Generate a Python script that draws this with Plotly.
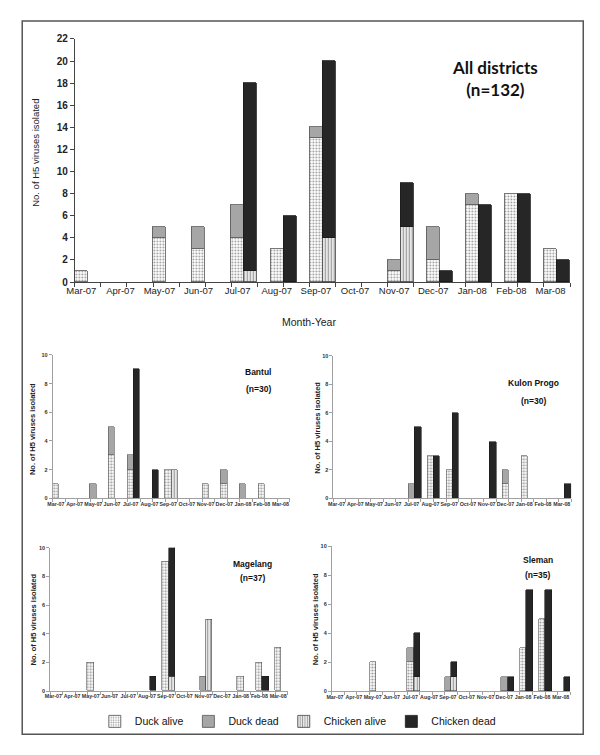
import plotly.graph_objects as go

# ---------------- data ----------------
months = ["Mar-07", "Apr-07", "May-07", "Jun-07", "Jul-07", "Aug-07", "Sep-07",
          "Oct-07", "Nov-07", "Dec-07", "Jan-08", "Feb-08", "Mar-08"]

series_names = ["Duck alive", "Duck dead", "Chicken alive", "Chicken dead"]

all_duck_alive = [1, 0, 4, 3, 4, 3, 13, 0, 1, 2, 7, 8, 3]
all_duck_dead = [0, 0, 1, 2, 3, 0, 1, 0, 1, 3, 1, 0, 0]
all_chicken_alive = [0, 0, 0, 0, 1, 0, 4, 0, 5, 0, 0, 0, 0]
all_chicken_dead = [0, 0, 0, 0, 17, 6, 16, 0, 4, 1, 7, 8, 2]

bantul_duck_alive = [1, 0, 0, 3, 2, 0, 2, 0, 1, 1, 0, 1, 0]
bantul_duck_dead = [0, 0, 1, 2, 1, 0, 0, 0, 0, 1, 1, 0, 0]
bantul_chicken_alive = [0, 0, 0, 0, 0, 0, 2, 0, 0, 0, 0, 0, 0]
bantul_chicken_dead = [0, 0, 0, 0, 9, 2, 0, 0, 0, 0, 0, 0, 0]

kulon_duck_alive = [0, 0, 0, 0, 0, 3, 2, 0, 0, 1, 3, 0, 0]
kulon_duck_dead = [0, 0, 0, 0, 1, 0, 0, 0, 0, 1, 0, 0, 0]
kulon_chicken_alive = [0, 0, 0, 0, 0, 0, 0, 0, 0, 0, 0, 0, 0]
kulon_chicken_dead = [0, 0, 0, 0, 5, 3, 6, 0, 4, 0, 0, 0, 1]

magelang_duck_alive = [0, 0, 2, 0, 0, 0, 9, 0, 0, 0, 1, 2, 3]
magelang_duck_dead = [0, 0, 0, 0, 0, 0, 0, 0, 1, 0, 0, 0, 0]
magelang_chicken_alive = [0, 0, 0, 0, 0, 0, 1, 0, 5, 0, 0, 0, 0]
magelang_chicken_dead = [0, 0, 0, 0, 0, 1, 9, 0, 0, 0, 0, 1, 0]

sleman_duck_alive = [0, 0, 2, 0, 2, 0, 0, 0, 0, 0, 3, 5, 0]
sleman_duck_dead = [0, 0, 0, 0, 1, 0, 1, 0, 0, 1, 0, 0, 0]
sleman_chicken_alive = [0, 0, 0, 0, 1, 0, 1, 0, 0, 0, 0, 0, 0]
sleman_chicken_dead = [0, 0, 0, 0, 3, 0, 1, 0, 0, 1, 7, 7, 1]

y_title = "No. of H5 viruses isolated"
x_title = "Month-Year"

# ---------------- layout helpers ----------------
# page body has an 8px margin, so the figure is 8px smaller and positions
# below are given in window pixels
OFF = 8
W, H = 600 - OFF, 755 - OFF


def px_x(v):
    return (v - OFF) / W


def px_y(v):
    return 1 - (v - OFF) / H


n = len(months)
duck_x = [3 * i for i in range(n)]
chicken_x = [3 * i + 1 for i in range(n)]
x_range = [-0.5, 3 * n - 1.5]


def nz(vals):
    return [v if v else None for v in vals]


panels = [
    dict(ax="", data=(all_duck_alive, all_duck_dead, all_chicken_alive, all_chicken_dead),
         xd=(66.7, 569.6), yd=(34.3, 280.7), ymax=22, main=True, tx=26, ty=150),
    dict(ax="2", data=(bantul_duck_alive, bantul_duck_dead, bantul_chicken_alive, bantul_chicken_dead),
         xd=(44.3, 285.0), yd=(354.5, 500.0), ymax=10, main=False, tx=24, ty=430),
    dict(ax="3", data=(kulon_duck_alive, kulon_duck_dead, kulon_chicken_alive, kulon_chicken_dead),
         xd=(329.3, 570.7), yd=(355.5, 500.0), ymax=10, main=False, tx=313, ty=428),
    dict(ax="4", data=(magelang_duck_alive, magelang_duck_dead, magelang_chicken_alive, magelang_chicken_dead),
         xd=(41.7, 282.7), yd=(550.0, 695.3), ymax=10, main=False, tx=25, ty=623),
    dict(ax="5", data=(sleman_duck_alive, sleman_duck_dead, sleman_chicken_alive, sleman_chicken_dead),
         xd=(327.7, 569.7), yd=(548.3, 695.7), ymax=10, main=False, tx=311, ty=622),
]

fig = go.Figure()

SANS = "Liberation Sans, Arial, sans-serif"
ann = []

for p in panels:
    main = p["main"]
    da, dd, ca, cd = p["data"]
    xa = "x" + p["ax"]
    ya = "y" + p["ax"]
    lw = 0.8 if main else 0.6
    psize = 3
    styles = [
        dict(color="white", line=dict(color="#555555", width=lw),
             pattern=dict(shape=".", bgcolor="white", fgcolor="#2e2e2e", size=psize,
                          solidity=0.3 if main else 0.4)),
        dict(color="#a6a6a6", line=dict(color="#555555", width=lw)),
        dict(color="white", line=dict(color="#444444", width=lw),
             pattern=dict(shape="|", bgcolor="white", fgcolor="#333333", size=psize, solidity=0.5)),
        dict(color="#262626", line=dict(color="#1a1a1a", width=lw)),
    ]
    xs = [duck_x, duck_x, chicken_x, chicken_x]
    for name, vals, xv, st in zip(series_names, (da, dd, ca, cd), xs, styles):
        fig.add_trace(go.Bar(
            x=xv, y=nz(vals), width=1, name=name, marker=st,
            xaxis=xa, yaxis=ya, showlegend=main, legendgroup=name,
            hovertemplate=name + ": %{y}<extra></extra>",
        ))

    xkey = "xaxis" + p["ax"]
    ykey = "yaxis" + p["ax"]
    if main:
        tickfont_x = dict(family=SANS, size=9.5, color="#222")
        tickfont_y = dict(family=SANS, size=10, color="#222", weight="bold")
        linecol = "#444444"
        tlen = 4
        ytitle_font = dict(family=SANS, size=9.5, color="#222")
    else:
        tickfont_x = dict(family=SANS, size=5.3, color="#333", weight="bold")
        tickfont_y = dict(family=SANS, size=5.5, color="#333", weight="bold")
        linecol = "#a0a0a0"
        tlen = 3
        ytitle_font = dict(family=SANS, size=7.5, color="#222", weight="bold")
    fig.layout[xkey] = dict(
        domain=[px_x(p["xd"][0]), px_x(p["xd"][1])],
        anchor=ya, range=x_range, showgrid=False, zeroline=False,
        showline=True, linecolor=linecol, linewidth=1,
        tickmode="array", tickvals=duck_x, ticktext=months, ticks="",
        tickfont=tickfont_x, tickangle=0,
        minor=dict(tick0=-0.5, dtick=2, ticks="outside", ticklen=tlen,
                   tickcolor=linecol, showgrid=False),
        fixedrange=True,
    )
    fig.layout[ykey] = dict(
        domain=[px_y(p["yd"][1]), px_y(p["yd"][0])],
        anchor=xa, range=[0, p["ymax"]], dtick=2, showgrid=False, zeroline=False,
        showline=True, linecolor=linecol, linewidth=1,
        ticks="outside", ticklen=tlen, tickcolor=linecol, tickfont=tickfont_y,
        fixedrange=True,
    )
    # y-axis title (rotated) placed at the reference position
    ann.append(dict(x=px_x(p["tx"]), y=px_y(p["ty"]), xref="paper", yref="paper",
                    text=y_title, textangle=-90, showarrow=False,
                    xanchor="center", yanchor="middle", font=ytitle_font))


def text(x, y, s, size, family, bold=True, color="#111"):
    ann.append(dict(x=px_x(x), y=px_y(y), xref="paper", yref="paper", text=s,
                    showarrow=False, xanchor="center", yanchor="middle",
                    font=dict(family=family, size=size, color=color,
                              weight="bold" if bold else "normal")))


title_font = "Lato, Open Sans, sans-serif"
text(493, 74, "All districts<br>(n=132)", 17, title_font)
text(304.8, 320.7, x_title, 10.5, SANS, bold=False, color="#222")
text(253, 372, "Bantul", 8.5, SANS)
text(253, 389, "(n=30)", 8.5, SANS)
text(532, 383, "Kulon Progo", 8.5, SANS)
text(532, 401, "(n=30)", 8.5, SANS)
text(247, 566, "Magelang", 8.5, SANS)
text(247, 581, "(n=37)", 8.5, SANS)
text(536.7, 562, "Sleman", 8.5, SANS)
text(536.7, 578, "(n=35)", 8.5, SANS)

fig.update_layout(
    width=W, height=H, autosize=False,
    margin=dict(l=0, r=0, t=0, b=0),
    paper_bgcolor="white", plot_bgcolor="white",
    barmode="stack", bargap=0,
    annotations=ann,
    shapes=[dict(type="rect", xref="paper", yref="paper",
                 x0=px_x(13.3), x1=px_x(583), y0=px_y(739), y1=px_y(16),
                 line=dict(color="#555555", width=1.5), fillcolor="rgba(0,0,0,0)")],
    legend=dict(orientation="h", x=px_x(87), y=px_y(726), xanchor="left", yanchor="middle",
                traceorder="normal", font=dict(family=SANS, size=10.5, color="#111"),
                bgcolor="rgba(0,0,0,0)", itemclick=False, itemdoubleclick=False),
    showlegend=True,
)

fig.write_html("out.html")
